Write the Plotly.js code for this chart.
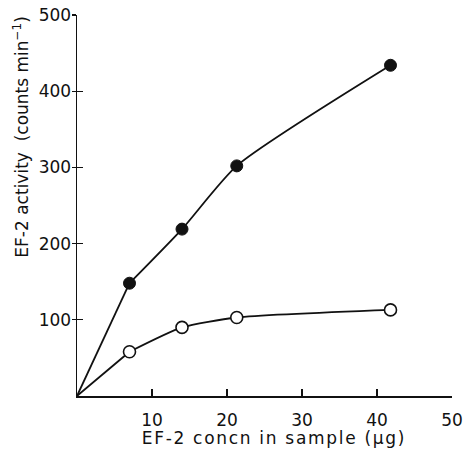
<!DOCTYPE html>
<html>
<head>
<meta charset="utf-8">
<script src="https://cdn.plot.ly/plotly-3.0.1.min.js"></script>
<style>
html,body{margin:0;padding:0;background:#fff;}
#chart{width:466px;height:454px;}
.annotation[data-index="0"] text{letter-spacing:1.7px;}
</style>
</head>
<body>
<div id="chart"></div>
<script>
// EF-2 concentration in sample (µg)
var concn = [0, 7, 14, 21.3, 41.8];
// EF-2 activity (counts min^-1)
var filledActivity = [0, 148, 219, 302, 434];
var openActivity = [0, 58, 90, 103, 113];
var xTicks = [10, 20, 30, 40, 50];
var yTicks = [100, 200, 300, 400, 500];

var F = "DejaVu Sans, sans-serif";
var black = "#111";

function seg(y, a, b) { return {x: concn.slice(a, b), y: y.slice(a, b)}; }

var traces = [];
[filledActivity, openActivity].forEach(function (vals, i) {
  var s1 = seg(vals, 0, 2);
  traces.push({x: s1.x, y: s1.y, mode: "lines", line: {color: black, width: 1.8}, hoverinfo: "skip", showlegend: false});
  var s2 = seg(vals, 1, vals.length);
  traces.push({x: s2.x, y: s2.y, mode: "lines", line: {color: black, width: 1.8, shape: "spline", smoothing: 0.6}, hoverinfo: "skip", showlegend: false});
  traces.push({
    x: s2.x, y: s2.y, mode: "markers", showlegend: false,
    marker: i === 0 ? {symbol: "circle", size: 12, color: black, line: {color: black, width: 1}}
                    : {symbol: "circle", size: 12, color: "#fff", line: {color: black, width: 1.6}}
  });
});
// duplicate axis for crossing y ticks
traces.push({x: [0], y: [0], yaxis: "y2", mode: "markers", marker: {opacity: 0}, hoverinfo: "skip", showlegend: false});

var layout = {
  width: 466, height: 454,
  margin: {l: 77, r: 14, t: 15, b: 58},
  paper_bgcolor: "#fff", plot_bgcolor: "#fff",
  font: {family: F, color: black},
  xaxis: {
    range: [0, 50], tickvals: xTicks, ticks: "inside", ticklen: 7, tickwidth: 1.2, tickcolor: black,
    showline: true, linecolor: black, linewidth: 1.5, showgrid: false, zeroline: false,
    tickfont: {family: F, size: 17, color: black}, ticklabelstandoff: 8
  },
  yaxis: {
    range: [0, 500], tickvals: yTicks, ticks: "inside", ticklen: 6, tickwidth: 1.2, tickcolor: black,
    showline: true, linecolor: black, linewidth: 1.5, showgrid: false, zeroline: false,
    tickfont: {family: F, size: 17, color: black}, ticklabelstandoff: 1
  },
  yaxis2: {
    overlaying: "y", side: "left", range: [0, 500], tickvals: yTicks, ticks: "outside", ticklen: 4,
    tickwidth: 1.2, tickcolor: black, showticklabels: false, showline: false, showgrid: false, zeroline: false
  },
  annotations: [
    {text: "EF-2 concn in sample (µg)", xref: "paper", yref: "paper", x: 0.525, y: -0.11,
     xanchor: "center", yanchor: "middle", showarrow: false, font: {family: F, size: 17, color: black}},
    {text: "EF-2 activity  (counts min<sup>−1</sup>)", xref: "paper", yref: "paper", x: -0.15, y: 0.68,
     xanchor: "center", yanchor: "middle", textangle: -90, showarrow: false, font: {family: F, size: 17, color: black}}
  ]
};

Plotly.newPlot("chart", traces, layout, {displayModeBar: false, staticPlot: true});
</script>
</body>
</html>
